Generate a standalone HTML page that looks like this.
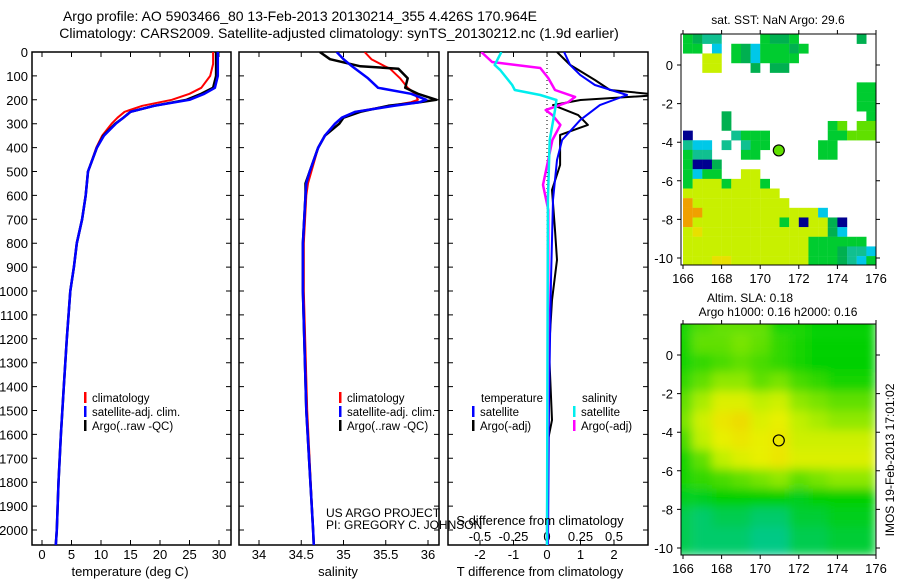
<!DOCTYPE html>
<html><head><meta charset="utf-8"><style>
body{margin:0;background:#fff}
svg text{font-family:"Liberation Sans",sans-serif;fill:#000}
</style></head><body>
<svg id="c" width="900" height="580" viewBox="0 0 900 580" xmlns="http://www.w3.org/2000/svg">
<defs>
<clipPath id="cp1"><rect x="32" y="52" width="199" height="493"/></clipPath>
<clipPath id="cp2"><rect x="239" y="52" width="200" height="493"/></clipPath>
<clipPath id="cp3"><rect x="448" y="52" width="200" height="493"/></clipPath>
<clipPath id="cm1"><rect x="681" y="34" width="195" height="231"/></clipPath>
<clipPath id="cm2"><rect x="681" y="324" width="195" height="231"/></clipPath>
<filter id="bl" x="0" y="0" width="1" height="1"><feGaussianBlur stdDeviation="5"/></filter>
</defs>
<text x="300" y="21" font-size="14" text-anchor="middle">Argo profile: AO 5903466_80 13-Feb-2013 20130214_355 4.426S 170.964E</text>
<text x="339" y="38" font-size="14" text-anchor="middle">Climatology: CARS2009. Satellite-adjusted climatology: synTS_20130212.nc (1.9d earlier)</text>
<g id="g"></g>
</svg>
<script>
// ---- data ----
const tDepth=[0,50,100,150,175,200,225,250,275,300,350,400,500,600,700,800,900,1000,1200,1400,1600,1800,2000,2075];
const tArgo=[29.5,29.5,29.5,29.0,27.0,24.5,19.0,15.0,13.8,12.4,10.4,9.3,7.8,7.4,6.8,5.9,5.4,4.8,4.2,3.7,3.2,2.8,2.5,2.3];
const tClim=[29.0,29.0,28.5,27.0,25.0,22.0,17.0,14.0,12.8,11.8,10.2,9.2,7.8,7.4,6.8,5.9,5.4,4.8,4.2,3.7,3.2,2.8,2.5,2.3];
const tSat=[29.8,29.8,29.8,29.3,27.5,25.0,19.0,15.0,13.8,12.5,10.5,9.3,7.8,7.4,6.8,5.9,5.4,4.8,4.2,3.7,3.2,2.8,2.5,2.3];
const sDepth=[0,30,60,70,110,150,175,200,210,225,250,275,300,350,400,500,550,600,800,1000,1500,2000,2075];
const sArgo=[34.72,34.84,35.2,35.65,35.76,35.73,35.88,36.1,35.9,35.53,35.2,35.0,34.95,34.78,34.7,34.6,34.55,34.55,34.52,34.52,34.56,34.64,34.65];
const sClim=[35.25,35.33,35.49,35.55,35.67,35.76,35.85,35.88,35.8,35.55,35.14,34.98,34.9,34.78,34.7,34.62,34.58,34.56,34.53,34.53,34.57,34.64,34.65];
const sSat=[34.92,35.0,35.1,35.14,35.29,35.41,35.8,35.98,35.9,35.6,35.14,34.98,34.9,34.78,34.7,34.6,34.56,34.55,34.52,34.52,34.56,34.64,34.65];
const dtSatDepth=[0,54,96,138,180,222,285,368,452,619,954,1456,2075];
const dtSat=[0.51,0.69,0.99,1.43,2.39,1.58,0.99,0.45,0.30,0.18,0.12,0.06,0.03];
const dtArgoDepth=[0,54,117,159,180,201,222,264,305,347,410,473,577,745,870,1038,1247,1540,1623,2075];
const dtArgo=[0.3,0.69,1.43,1.88,3.4,1.0,0.18,0.93,1.22,0.39,0.39,0.39,0.15,0.24,0.3,0.15,0.06,0.15,0.03,0.03];
const dsSatDepth=[0,54,75,138,159,180,201,243,368,619,2075];
const dsSat=[-0.34,-0.39,-0.35,-0.26,-0.24,-0.05,0.07,0.06,0.02,0.007,0];
const dsArgoDepth=[0,42,67,109,159,188,209,243,264,305,368,556,661,1038,2075];
const dsArgo=[-0.49,-0.41,-0.05,0.01,0.06,0.21,0.16,-0.01,0.04,0.1,0.04,-0.03,0.01,0.01,0];
const depthTicks=[0,100,200,300,400,500,600,700,800,900,1000,1100,1200,1300,1400,1500,1600,1700,1800,1900,2000];
const tTicks=[0,5,10,15,20,25,30];
const sTicks=[34,34.5,35,35.5,36];
const tdTicks=[-2,-1,0,1,2];
const sdTicks=[-0.5,-0.25,0,0.25,0.5];
const sdLabels=["-0.5","-0.25","0","0.25","0.5"];
const lonTicks=[166,168,170,172,174,176];
const latTicks=[0,-2,-4,-6,-8,-10];
const sstRows=[
"gGtt....gGGg......G.",
"gg.c.gGcgggGg.......",
"..yy.gGcgggg........",
"..yy...G.GG.........",
"....................",
"..................gg",
"..................gg",
"..................gg",
"....G..............g",
"....G..........gl.ll",
"b....tggg......gglll",
"tcc.t.tgg.....gg....",
"gtt...gg......gg....",
"gbbG................",
"gcgg..yy............",
"gyyygyyyg...........",
"yyyyyyyyyy..........",
"oyyyyyyyyyy.........",
"ooyyyyyyyyyyyyc.....",
"oyyyyyyyyygybyyGb...",
"yYyyyyyyyyyyyyyGc...",
"yyyyyyyyyyyyygggggg.",
"yyyyyyyyyyyyygggGttc",
"yyyYYyyyyyyyygggGtcg"];
const slaRows=[
[0.35,0.45,0.5,0.5,0.5,0.35,0.35,0.3,0.3,0.3],
[0.35,0.5,0.5,0.55,0.5,0.4,0.35,0.3,0.3,0.3],
[0.35,0.4,0.45,0.5,0.45,0.4,0.35,0.3,0.3,0.3],
[0.4,0.5,0.6,0.6,0.5,0.55,0.45,0.4,0.35,0.35],
[0.5,0.65,0.8,0.8,0.7,0.75,0.6,0.55,0.5,0.5],
[0.55,0.75,0.9,0.95,0.8,0.85,0.7,0.65,0.6,0.6],
[0.45,0.7,0.85,0.9,0.85,0.9,0.75,0.75,0.75,0.75],
[0.35,0.5,0.7,0.8,0.85,0.9,0.8,0.8,0.8,0.8],
[0.35,0.4,0.45,0.5,0.55,0.6,0.5,0.55,0.6,0.6],
[0.25,0.25,0.3,0.3,0.3,0.3,0.25,0.3,0.3,0.3],
[0.15,0.1,0.15,0.15,0.1,0.1,0.2,0.2,0.25,0.25],
[0.15,0.1,0.1,0.1,0.05,0.05,0.15,0.15,0.2,0.2]];
const argoLon=170.964, argoLat=-4.426;

// ---- drawing ----
const NS="http://www.w3.org/2000/svg";
const G=document.getElementById('g');
function mk(tag,at,parent,txt){const e=document.createElementNS(NS,tag);for(const k in at)e.setAttribute(k,at[k]);if(txt!==undefined)e.textContent=txt;(parent||G).appendChild(e);return e;}
const sy=d=>52+d*0.239;
const sxT=v=>42+v*5.9, sxS=v=>259+(v-34)*84.5, sxD=v=>547+v*33.5, sxSD=v=>547+v*134;
const panels=[{x:32,w:199,cp:'cp1',n:'temperature'},{x:239,w:200,cp:'cp2',n:'salinity'},{x:448,w:200,cp:'cp3',n:'difference'}];
panels.forEach(p=>{
 const r=mk('rect',{x:p.x,y:52,width:p.w,height:493,fill:'none',stroke:'#000','stroke-width':1.5});
 
 
 depthTicks.forEach(d=>{const y=sy(d);
  const t=mk('path',{d:`M${p.x},${y}h5M${p.x+p.w},${y}h-5`,stroke:'#000'});
  
  });
});
depthTicks.forEach(d=>{const t=mk('text',{x:28,y:sy(d)+5,'font-size':13,'text-anchor':'end'},G,String(d));
 
 });
function xticks(vals,sx,labels,ly){vals.forEach((v,i)=>{const x=sx(v);
 const t=mk('path',{d:`M${x},52v5M${x},545v-5`,stroke:'#000'});
 
 
 const l=mk('text',{x:x,y:ly,'font-size':13,'text-anchor':'middle'},G,labels?labels[i]:String(v));
 
 });}
xticks(tTicks,sxT,null,559);xticks(sTicks,sxS,null,559);xticks(tdTicks,sxD,null,559);
sdTicks.forEach((v,i)=>{const l=mk('text',{x:sxSD(v),y:541,'font-size':13,'text-anchor':'middle'},G,sdLabels[i]);
 
 });
function line(vals,depths,sx,col,w,cp,name){const d=vals.map((v,i)=>(i?'L':'M')+sx(v).toFixed(1)+','+sy(depths[i]).toFixed(1)).join('');
 const e=mk('path',{d:d,fill:'none',stroke:col,'stroke-width':w,'clip-path':`url(#${cp})`,'stroke-linejoin':'round'});
 
 }
line(tClim,tDepth,sxT,'#f00',2,'cp1','temp-climatology-line');
line(tArgo,tDepth,sxT,'#000',2.5,'cp1','temp-argo-line');
line(tSat,tDepth,sxT,'#00f',2.5,'cp1','temp-satellite-line');
line(sClim,sDepth,sxS,'#f00',2,'cp2','sal-climatology-line');
line(sArgo,sDepth,sxS,'#000',2.5,'cp2','sal-argo-line');
line(sSat,sDepth,sxS,'#00f',2.5,'cp2','sal-satellite-line');
const z=mk('path',{d:'M547,52V545',stroke:'#000','stroke-dasharray':'1,3'});


line(dtArgo,dtArgoDepth,sxD,'#000',2,'cp3','tdiff-argo-line');
line(dtSat,dtSatDepth,sxD,'#00f',2,'cp3','tdiff-satellite-line');
line(dsArgo,dsArgoDepth,sxSD,'#f0f',2.5,'cp3','sdiff-argo-line');
line(dsSat,dsSatDepth,sxSD,'#0ee',2.5,'cp3','sdiff-satellite-line');
function txt(x,y,s,fs,name,anchor){const t=mk('text',{x:x,y:y,'font-size':fs,'text-anchor':anchor||'start'},G,s);
 
 return t;}
function leg(x,y,col,s,name){const b=mk('rect',{x:x,y:y-10,width:2.5,height:11,fill:col});
 
 
 txt(x+8,y,s,11.5,name);}
[[84,'t'],[339,'s']].forEach(([x,k])=>{leg(x,402,'#f00','climatology',k+'-legend-climatology');leg(x,416,'#00f','satellite-adj. clim.',k+'-legend-satellite');leg(x,430,'#000','Argo(..raw -QC)',k+'-legend-argo');});
txt(481,402,'temperature',11.5,'legend-temperature-header');txt(582,402,'salinity',11.5,'legend-salinity-header');
leg(472,416,'#00f','satellite','legend-t-satellite');leg(472,430,'#000','Argo(-adj)','legend-t-argo');
leg(573,416,'#0ee','satellite','legend-s-satellite');leg(573,430,'#f0f','Argo(-adj)','legend-s-argo');
txt(326,517,'US ARGO PROJECT',12,'project-label');txt(326,529,'PI: GREGORY C. JOHNSON',12,'pi-label');
txt(540,525,'S difference from climatology',13,'s-diff-axis-title','middle');
txt(130,576,'temperature (deg C)',13,'temperature-axis-title','middle');
txt(338,576,'salinity',13,'salinity-axis-title','middle');
txt(540,576,'T difference from climatology',13,'t-diff-axis-title','middle');
// maps
const lx=v=>683+(v-166)*19.3;
const ly1=v=>65-v*19.3, ly2=v=>355-v*19.3;
const cmap={g:'#00cc30',G:'#00b050',t:'#10c090',c:'#00c8e8',y:'#c8f000',Y:'#e8e000',o:'#f0a000',b:'#000090',l:'#60e000'};
const mg1=mk('g',{'clip-path':'url(#cm1)'});


sstRows.forEach((row,ri)=>{for(let ci=0;ci<row.length;ci++){const c=row[ci];if(c==='.')continue;
 const la=1.6-ri*0.5, lo=166+ci*0.5;
 const r=mk('rect',{x:lx(lo),y:ly1(la),width:9.8,height:9.8,fill:cmap[c]},mg1);
 
 }});
function slaCol(v){const s=[[0,[0,200,160]],[0.3,[0,208,0]],[0.5,[96,224,0]],[0.7,[192,240,0]],[0.85,[232,240,0]],[1,[240,210,0]]];
 for(let i=1;i<s.length;i++)if(v<=s[i][0]){const a=s[i-1],b=s[i],f=(v-a[0])/(b[0]-a[0]);return 'rgb('+a[1].map((q,k)=>Math.round(q+(b[1][k]-q)*f)).join(',')+')';}return 'rgb(240,210,0)';}
const mg2=mk('g',{'clip-path':'url(#cm2)'});


const bg=mk('g',{filter:'url(#bl)'},mg2);
slaRows.forEach((row,ri)=>row.forEach((v,ci)=>{const la=2.1-ri, lo=165.5+ci;
 const w=ci===0||ci===row.length-1?29:19.5;
 const r=mk('rect',{x:ci===0?lx(lo)-10:lx(lo),y:ri===0?ly2(la)-10:ly2(la),width:w,height:ri===0||ri===slaRows.length-1?29:19.5,fill:slaCol(v)},bg);
 
 }));
[[34,ly1,'sst'],[324,ly2,'sla']].forEach(([top,ly,n])=>{
 const f=mk('rect',{x:681,y:top,width:195,height:231,fill:'none',stroke:'#000'});
 
 
 lonTicks.forEach(v=>{const x=lx(v);mk('path',{d:`M${x},${top}v-4M${x},${top+231}v4`,stroke:'#000'});
  txt(x,top+231+18,String(v),13,n+'-lon-label','middle');});
 latTicks.forEach(v=>{const y=ly(v);mk('path',{d:`M681,${y}h-4M876,${y}h4`,stroke:'#000'});
  txt(673,y+5,String(v),13,n+'-lat-label','end');});
 const c=mk('circle',{cx:lx(argoLon),cy:ly(argoLat),r:5.5,fill:n==='sst'?'#60e000':'none',stroke:'#000','stroke-width':1.2});
 
 
});
txt(778,24,'sat. SST: NaN Argo: 29.6',12,'sst-map-title','middle');
txt(750,302,'Altim. SLA: 0.18',12,'sla-map-title','middle');
txt(778,316,'Argo h1000: 0.16 h2000: 0.16',12,'sla-map-subtitle','middle');
const ts=txt(894,460,'IMOS 19-Feb-2013 17:01:02',12,'timestamp-label','middle');
ts.setAttribute('transform','rotate(-90 894 460)');
</script>
</body></html>
